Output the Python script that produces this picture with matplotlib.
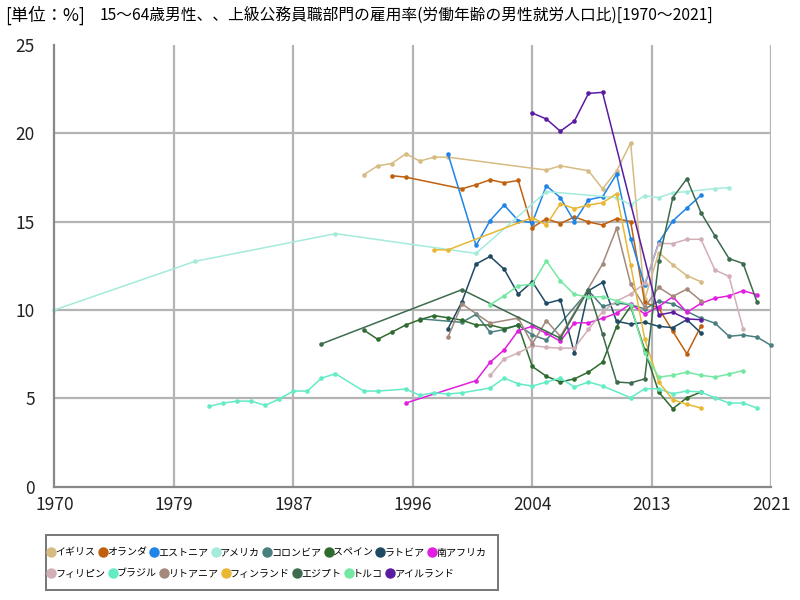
import numpy as np
import matplotlib
matplotlib.use("Agg")
import matplotlib.pyplot as plt
from matplotlib.patches import Rectangle

plt.rcParams["font.family"] = ["Noto Sans CJK JP", "DejaVu Sans"]

TITLE_UNIT = "[単位：%]"
TITLE = "15～64歳男性、、上級公務員職部門の雇用率(労働年齢の男性就労人口比)[1970～2021]"

# --- data ---
uk_years = [1992, 1993, 1994, 1995, 1996, 1997, 1998, 2005, 2006, 2008, 2009, 2010, 2011, 2012, 2013, 2014, 2015, 2016]
uk_vals = [17.65, 18.16, 18.29, 18.84, 18.43, 18.65, 18.65, 17.92, 18.16, 17.88, 16.86, 17.86, 19.46, 10.6, 13.25, 12.56, 11.94, 11.6]

nl_years = [1994, 1995, 1999, 2000, 2001, 2002, 2003, 2004, 2005, 2006, 2007, 2008, 2009, 2010, 2011, 2012, 2013, 2014, 2015, 2016]
nl_vals = [17.6, 17.52, 16.86, 17.09, 17.37, 17.2, 17.33, 14.66, 15.17, 14.89, 15.27, 14.98, 14.81, 15.17, 15.0, 10.43, 10.1, 8.79, 7.52, 9.08]

ee_years = [1998, 2000, 2001, 2002, 2003, 2004, 2005, 2006, 2007, 2008, 2009, 2010, 2011, 2012, 2013, 2014, 2015, 2016]
ee_vals = [18.84, 13.65, 15.06, 15.94, 15.06, 14.94, 17.03, 16.36, 15.0, 16.24, 16.41, 17.69, 14.04, 11.4, 13.82, 15.04, 15.77, 16.49]

us_years = [1970, 1980, 1990, 2000, 2005, 2010, 2011, 2012, 2013, 2014, 2015, 2017, 2018]
us_vals = [10.0, 12.75, 14.32, 13.2, 16.7, 16.36, 15.96, 16.47, 16.36, 16.64, 16.7, 16.87, 16.93]

co_years = [1996, 1999, 2000, 2001, 2002, 2003, 2004, 2005, 2008, 2009, 2010, 2011, 2012, 2013, 2014, 2015, 2016, 2017, 2018, 2019, 2020, 2021]
co_vals = [9.5, 9.3, 9.75, 8.74, 8.89, 9.15, 8.59, 8.3, 11.09, 10.2, 10.39, 10.3, 10.06, 10.49, 10.35, 9.92, 9.53, 9.25, 8.51, 8.58, 8.46, 7.99]

es_years = list(range(1992, 2017))
es_vals = [8.87, 8.34, 8.74, 9.15, 9.45, 9.68, 9.56, 9.42, 9.15, 9.15, 8.95, 9.13, 6.8, 6.25, 5.92, 6.1, 6.48, 7.04, 9.06, 10.2, 7.75, 5.35, 4.41, 5.03, 5.35]

lv_years = list(range(1998, 2017))
lv_vals = [8.93, 10.47, 12.6, 13.03, 12.31, 10.9, 11.6, 10.37, 10.58, 7.55, 11.09, 11.56, 9.36, 9.2, 9.3, 9.07, 9.0, 9.45, 8.7]

za_years = [1995] + list(range(2000, 2021))
za_vals = [4.73, 6.0, 7.04, 7.74, 8.83, 9.07, 8.68, 8.23, 9.27, 9.27, 9.53, 9.81, 10.34, 9.77, 10.19, 10.75, 9.87, 10.37, 10.67, 10.8, 11.09, 10.86]

ph_years = list(range(2001, 2020))
ph_vals = [6.29, 7.23, 7.57, 7.98, 7.89, 7.83, 7.85, 8.9, 9.9, 10.5, 10.9, 11.5, 13.76, 13.76, 14.0, 14.0, 12.26, 11.9, 8.93]

br_years = [1981, 1982, 1983, 1984, 1985, 1986, 1987, 1988, 1989, 1990, 1992, 1993, 1995, 1996, 1997, 1998, 1999,
            2001, 2002, 2003, 2004, 2005, 2006, 2007, 2008, 2009, 2011, 2012, 2013, 2014, 2015, 2016, 2017, 2018, 2019, 2020]
br_vals = [4.54, 4.73, 4.84, 4.84, 4.6, 4.96, 5.41, 5.41, 6.14, 6.39, 5.41, 5.41, 5.52, 5.17, 5.31, 5.24, 5.31,
           5.58, 6.14, 5.82, 5.69, 5.92, 6.14, 5.64, 5.92, 5.7, 5.03, 5.54, 5.54, 5.26, 5.41, 5.35, 5.03, 4.73, 4.73, 4.45]

lt_years = [1998, 1999, 2001, 2003, 2004, 2005, 2006, 2009, 2010, 2011, 2012, 2013, 2014, 2015, 2016]
lt_vals = [8.45, 10.34, 9.25, 9.54, 8.08, 9.4, 8.5, 12.6, 14.63, 11.47, 10.15, 11.28, 10.77, 11.18, 10.52]

fi_years = [1997, 1998, 2004, 2005, 2006, 2007, 2008, 2009, 2010, 2011, 2012, 2013, 2014, 2015, 2016]
fi_vals = [13.4, 13.4, 15.23, 14.81, 16.02, 15.74, 15.94, 16.07, 16.58, 12.54, 8.36, 5.92, 4.92, 4.66, 4.45]

eg_years = [1989, 1999, 2006, 2008, 2009, 2010, 2011, 2012, 2013, 2014, 2015, 2016, 2017, 2018, 2019, 2020]
eg_vals = [8.08, 11.15, 8.4, 11.15, 8.64, 5.92, 5.87, 6.1, 12.78, 16.36, 17.43, 15.51, 14.19, 12.91, 12.63, 10.43]

tr_years = list(range(2001, 2020))
tr_vals = [10.3, 10.8, 11.37, 11.46, 12.78, 11.65, 10.88, 10.73, 10.75, 10.52, 10.3, 7.58, 6.2, 6.3, 6.48, 6.3, 6.2, 6.37, 6.57]

ie_years = [2004, 2005, 2006, 2007, 2008, 2009, 2013, 2014, 2015, 2016]
ie_vals = [21.15, 20.81, 20.12, 20.7, 22.26, 22.32, 9.72, 9.87, 9.49, 9.45]

series = [
    ("イギリス", uk_years, uk_vals, "#d6bb83"),
    ("オランダ", nl_years, nl_vals, "#c0600e"),
    ("エストニア", ee_years, ee_vals, "#1e84e6"),
    ("アメリカ", us_years, us_vals, "#a4ebdc"),
    ("コロンビア", co_years, co_vals, "#4a7f80"),
    ("スペイン", es_years, es_vals, "#2f6a2f"),
    ("ラトビア", lv_years, lv_vals, "#1f4a62"),
    ("南アフリカ", za_years, za_vals, "#e01fe0"),
    ("フィリピン", ph_years, ph_vals, "#d2aeb6"),
    ("ブラジル", br_years, br_vals, "#62ebc4"),
    ("リトアニア", lt_years, lt_vals, "#a4897b"),
    ("フィンランド", fi_years, fi_vals, "#e8b834"),
    ("エジプト", eg_years, eg_vals, "#3d6b4e"),
    ("トルコ", tr_years, tr_vals, "#74e8a2"),
    ("アイルランド", ie_years, ie_vals, "#5b1ba0"),
]

x_ticks = np.linspace(1970, 2021, 7)
x_labels = ["1970", "1979", "1987", "1996", "2004", "2013", "2021"]
y_ticks = [0, 5, 10, 15, 20, 25]

fig = plt.figure(figsize=(8, 6), dpi=100)
ax = fig.add_axes([0.068, 0.189, 0.896, 0.736])

for xt in x_ticks[1:]:
    ax.axvline(xt, color="#b4b4b4", lw=1.6, zorder=0)
for yt in y_ticks[1:-1]:
    ax.axhline(yt, color="#b4b4b4", lw=1.6, zorder=0)

for name, yrs, vals, col in series:
    ax.plot(yrs, vals, color=col, lw=1.1, marker="o", ms=3.3,
            markeredgewidth=0, label=name, clip_on=False, zorder=2)

ax.set_xlim(1970, 2021)
ax.set_ylim(0, 25)
ax.set_xticks(x_ticks)
ax.set_xticklabels(x_labels)
ax.set_yticks(y_ticks)
ax.tick_params(length=0, labelsize=12.5, colors="#222222")
ax.tick_params(axis="y", pad=14)
ax.tick_params(axis="x", pad=7)
for s in ["top", "right"]:
    ax.spines[s].set_visible(False)
for s in ["left", "bottom"]:
    ax.spines[s].set_color("#888888")
    ax.spines[s].set_linewidth(1.6)

fig.text(0.006, 0.975, TITLE_UNIT, fontsize=12.5, va="center", ha="left")
fig.text(0.125, 0.973, TITLE, fontsize=11.3, va="center", ha="left")

# legend: two flowing rows inside one box
rows = [series[:8], series[8:]]
row_y = [0.079, 0.044]
for row, yy in zip(rows, row_y):
    hs = [plt.Line2D([], [], color=c, marker="o", ls="", ms=6.5) for _, _, _, c in row]
    ls = [n for n, _, _, _ in row]
    fig.legend(hs, ls, ncol=len(row), loc="center left",
               bbox_to_anchor=(0.06, yy), fontsize=7.2, frameon=False,
               handlelength=0.6, handletextpad=0.15, columnspacing=0.4,
               borderpad=0.0, borderaxespad=0.0)
fig.patches.append(Rectangle((0.057, 0.017), 0.565, 0.092, transform=fig.transFigure,
                             fill=False, edgecolor="#777777", lw=1.4))

fig.savefig("out.png", dpi=100)
